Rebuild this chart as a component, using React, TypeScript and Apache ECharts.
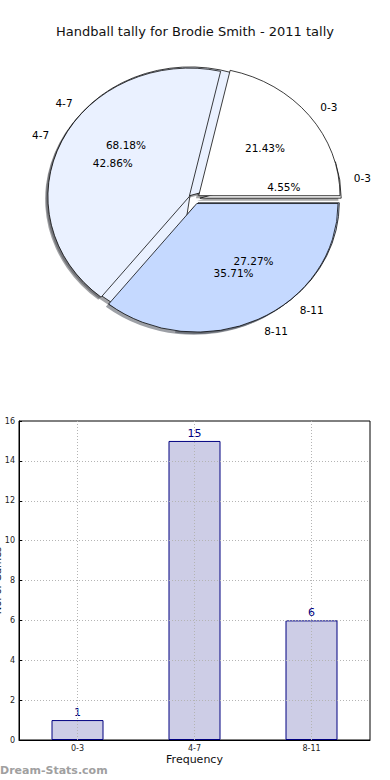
import React, { useEffect, useRef } from 'react';
import * as echarts from 'echarts';

const categories = ['0-3', '4-7', '8-11'];
const tallyA = [3, 6, 5];
const tallyB = [1, 15, 6];
const yMin = 0;
const yMax = 16;
const yStep = 2;
const sliceColors = ['#ffffff', '#eaf1ff', '#c5d9ff'];
const shadowColors = ['rgba(77,77,77,0.5)', 'rgba(70,72,77,0.5)', 'rgba(59,65,77,0.5)'];

const PIE = { cx: 194.3, cy: 198.9, rx: 141.3, ry: 128.6, explode: 0.04, sx: -2.8, sy: 2.6 };
const FONT = '"DejaVu Sans", sans-serif';

function slices(values: number[]) {
  const total = values.reduce((a, b) => a + b, 0);
  let acc = 0;
  return values.map((v) => {
    const start = (acc / total) * 2 * Math.PI;
    acc += v;
    const end = (acc / total) * 2 * Math.PI;
    const mid = (start + end) / 2;
    return {
      start,
      end,
      mid,
      frac: v / total,
      ox: PIE.explode * PIE.rx * Math.cos(mid),
      oy: -PIE.explode * PIE.ry * Math.sin(mid),
    };
  });
}

function wedgeSeries(values: number[], z: number, shadow: boolean) {
  const sl = slices(values);
  return {
    type: 'custom',
    coordinateSystem: 'none',
    z,
    silent: true,
    data: values,
    renderItem: (params: any) => {
      const i = params.dataIndex;
      const s = sl[i];
      return {
        type: 'sector',
        x: PIE.cx + s.ox + (shadow ? PIE.sx : 0),
        y: PIE.cy + s.oy + (shadow ? PIE.sy : 0),
        scaleY: PIE.ry / PIE.rx,
        shape: { cx: 0, cy: 0, r: PIE.rx, r0: 0, startAngle: -s.start, endAngle: -s.end, clockwise: false },
        style: shadow
          ? { fill: shadowColors[i], stroke: 'none' }
          : { fill: sliceColors[i], stroke: '#000', lineWidth: 0.8, strokeNoScale: true },
      };
    },
  };
}

function labelSeries(values: number[], z: number) {
  const sl = slices(values);
  return {
    type: 'custom',
    coordinateSystem: 'none',
    z,
    silent: true,
    data: values,
    renderItem: (params: any) => {
      const i = params.dataIndex;
      const s = sl[i];
      const c = Math.cos(s.mid);
      const sn = Math.sin(s.mid);
      const bx = PIE.cx + s.ox;
      const by = PIE.cy + s.oy;
      return {
        type: 'group',
        children: [
          {
            type: 'text',
            x: bx + 1.1 * PIE.rx * c,
            y: by - 1.1 * PIE.ry * sn,
            style: {
              text: categories[i],
              fill: '#000',
              font: `10.5px ${FONT}`,
              align: c > 0 ? 'left' : 'right',
              verticalAlign: 'middle',
            },
          },
          {
            type: 'text',
            x: bx + 0.6 * PIE.rx * c,
            y: by - 0.6 * PIE.ry * sn,
            style: {
              text: (s.frac * 100).toFixed(2) + '%',
              fill: '#000',
              font: `10.5px ${FONT}`,
              align: 'center',
              verticalAlign: 'middle',
            },
          },
        ],
      };
    },
  };
}

export default function App() {
  const ref = useRef<HTMLDivElement>(null);
  useEffect(() => {
    if (!ref.current) return;
    const chart = echarts.init(ref.current, undefined, { renderer: 'svg' });
    const gridLine = { color: '#b4b4b4', type: [1, 2], width: 1 };
    chart.setOption({
      animation: false,
      backgroundColor: '#fff',
      textStyle: { fontFamily: FONT },
      title: {
        text: 'Handball tally for Brodie Smith - 2011 tally',
        left: 'center',
        top: 20,
        textStyle: { fontFamily: FONT, fontSize: 13, fontWeight: 'normal', color: '#111' },
      },
      graphic: [
        {
          type: 'text',
          left: 0,
          top: 765,
          style: { text: 'Dream-Stats.com', fill: '#a0a0a0', font: `bold 11px ${FONT}` },
        },
      ],
      grid: {
        left: 19,
        right: 20,
        top: 421,
        bottom: 40,
        containLabel: false,
        outerBoundsMode: 'none',
        show: true,
        borderColor: '#000',
        borderWidth: 1,
        backgroundColor: '#fff',
      },
      xAxis: {
        type: 'category',
        data: categories,
        z: 5,
        boundaryGap: true,
        name: 'Frequency',
        nameLocation: 'middle',
        nameGap: 14,
        nameMoveOverlap: false,
        nameTextStyle: { fontFamily: FONT, fontSize: 11, color: '#111' },
        axisLine: { show: true, lineStyle: { color: '#000', width: 1 } },
        axisTick: { show: false },
        axisLabel: { fontFamily: FONT, fontSize: 8, color: '#222', margin: 4 },
        splitLine: { show: true, alignWithLabel: true, lineStyle: gridLine },
      },
      yAxis: {
        type: 'value',
        min: yMin,
        max: yMax,
        interval: yStep,
        z: 5,
        name: 'No. of Games',
        nameLocation: 'middle',
        nameGap: 17,
        nameMoveOverlap: false,
        nameTextStyle: { fontFamily: FONT, fontSize: 10, color: '#111' },
        axisLine: { show: true, lineStyle: { color: '#000', width: 1 } },
        axisTick: { show: true, inside: true, length: 3, lineStyle: { color: '#000' } },
        axisLabel: { fontFamily: FONT, fontSize: 8, color: '#222', margin: 4 },
        splitLine: { show: true, showMinLine: false, showMaxLine: false, lineStyle: gridLine },
      },
      series: [
        wedgeSeries(tallyA, 1, true),
        wedgeSeries(tallyB, 1, true),
        wedgeSeries(tallyB, 2, false),
        wedgeSeries(tallyA, 3, false),
        labelSeries(tallyB, 6),
        labelSeries(tallyA, 6),
        {
          type: 'bar',
          data: tallyB,
          barWidth: 52,
          z: 2,
          itemStyle: { color: '#cdcde6', borderColor: '#000080', borderWidth: 1 },
          label: {
            show: true,
            position: 'top',
            distance: 2,
            color: '#000080',
            fontFamily: FONT,
            fontSize: 11,
          },
        },
      ],
    });
    return () => chart.dispose();
  }, []);
  return <div ref={ref} style={{ position: 'absolute', left: 0, top: 0, width: 390, height: 780 }} />;
}
